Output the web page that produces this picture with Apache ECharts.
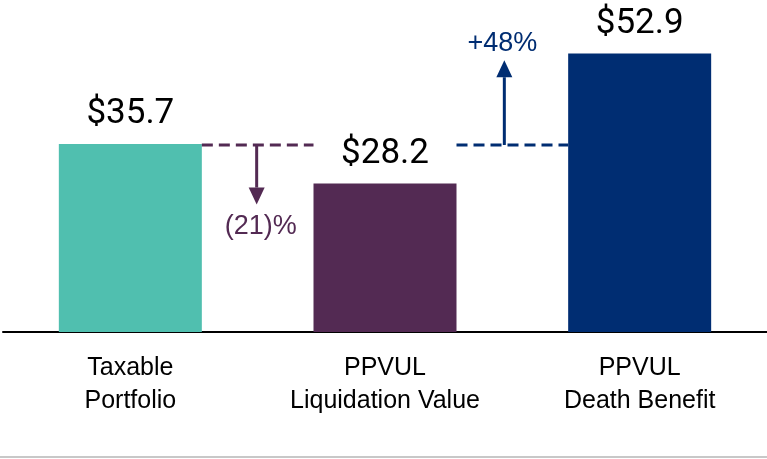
<!DOCTYPE html>
<html>
<head>
<meta charset="utf-8">
<script src="https://cdn.jsdelivr.net/npm/echarts@6/dist/echarts.min.js"></script>
<style>
  html, body { margin: 0; padding: 0; background: #fff; }
  #app { width: 767px; height: 459px; }
</style>
</head>
<body>
<div id="app"></div>
<script>
const categories = ['Taxable\nPortfolio', 'PPVUL\nLiquidation Value', 'PPVUL\nDeath Benefit'];
const values = [35.7, 28.2, 52.9];
const valueLabels = ['$35.7', '$28.2', '$52.9'];
const barColors = ['#50BFAF', '#532A53', '#002D72'];

// connectors: dashed line at level, arrow to tip, with % label
const connFrom = [0, 1];
const connTo = [1, 2];
const connLevel = [35.7, 35.7];
const connTip = [24.2, 51.6];
const connLabel = ['(21)%', '+48%'];
const connColor = ['#532A53', '#002D72'];

const BAR_W = 143;
const myChart = echarts.init(document.getElementById('app'));

const renderConnector = (params, api) => {
  const i = params.dataIndex;
  const a = api.coord([connFrom[i], connLevel[i]]);
  const b = api.coord([connTo[i], connLevel[i]]);
  const tipY = api.coord([connFrom[i], connTip[i]])[1];
  const x1 = a[0] + BAR_W / 2;
  const x2 = b[0] - BAR_W / 2;
  const y = a[1] + 1;
  const down = tipY > y;
  const ax = i === 0 ? (x1 + x2) / 2 - 1 : (x1 + x2) / 2 - 8;
  const color = connColor[i];
  const headH = 17, headW = 8;
  const shaftEnd = down ? tipY - headH : tipY + headH;
  return {
    type: 'group',
    children: [
      { type: 'line', shape: { x1, y1: y, x2, y2: y },
        style: { stroke: color, lineWidth: 3, lineDash: [11, 6] } },
      { type: 'line', shape: { x1: ax, y1: y, x2: ax, y2: shaftEnd },
        style: { stroke: color, lineWidth: 3 } },
      { type: 'polygon', shape: { points: [[ax - headW, shaftEnd], [ax + headW, shaftEnd], [ax, tipY]] },
        style: { fill: color } },
      { type: 'text',
        x: down ? ax + 4 : ax - 2, y: down ? tipY + 22 : tipY - 17,
        style: { text: connLabel[i], fill: color, font: '27px "Liberation Sans", Arial, sans-serif',
          align: 'center', verticalAlign: 'middle' } }
    ]
  };
};

const option = {
  animation: false,
  grid: { left: 3, right: 0, top: 16, bottom: 127 },
  xAxis: {
    type: 'category',
    data: categories,
    axisTick: { show: false },
    axisLine: { lineStyle: { color: '#000', width: 2 } },
    axisLabel: {
      margin: 20, color: '#000', fontSize: 25, lineHeight: 33,
      fontFamily: '"Liberation Sans Narrow", "Liberation Sans", sans-serif'
    }
  },
  yAxis: { type: 'value', min: 0, max: 60, show: false, splitLine: { show: false } },
  series: [
    {
      type: 'bar',
      barWidth: BAR_W,
      data: values.map((v, i) => ({ value: v, itemStyle: { color: barColors[i] } })),
      label: {
        show: true, position: 'top', distance: 12,
        formatter: p => valueLabels[p.dataIndex],
        color: '#000', fontSize: 35, fontFamily: 'Roboto, "Liberation Sans", sans-serif'
      }
    },
    {
      type: 'custom',
      renderItem: renderConnector,
      data: connFrom.map((f, i) => [f, connLevel[i]]),
      encode: { x: 0, y: 1 },
      z: 5
    }
  ],
  graphic: [
    { type: 'line', shape: { x1: 0, y1: 457, x2: 767, y2: 457 },
      style: { stroke: '#c8c8c8', lineWidth: 2 } }
  ]
};

myChart.setOption(option);
</script>
</body>
</html>
